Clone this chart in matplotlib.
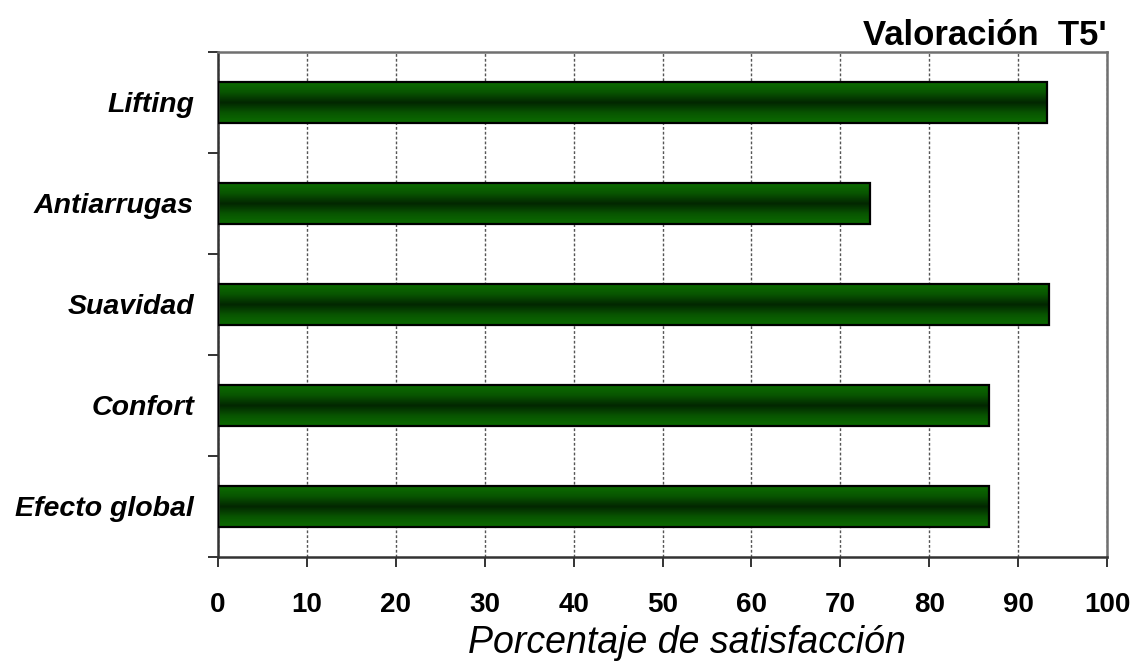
import numpy as np
import matplotlib
matplotlib.use("Agg")
import matplotlib.pyplot as plt
from matplotlib.colors import LinearSegmentedColormap

categories = ["Lifting", "Antiarrugas", "Suavidad", "Confort", "Efecto global"]
values = [93.3, 73.3, 93.5, 86.7, 86.7]
xticks = [0, 10, 20, 30, 40, 50, 60, 70, 80, 90, 100]

plt.rcParams["font.family"] = ["Liberation Sans", "DejaVu Sans"]

fig = plt.figure(figsize=(11.36, 6.69), dpi=100)
ax = fig.add_axes([0.1919, 0.1674, 0.9745 - 0.1919, 0.9223 - 0.1674])

n = len(categories)
ypos = np.arange(n)[::-1]  # first category at top
bar_h = 0.4

# vertical gradient: bright green edges, dark center
cmap = LinearSegmentedColormap.from_list(
    "bar", ["#0c6c00", "#085400", "#022600", "#085400", "#0c6c00"])
grad = np.linspace(0, 1, 64).reshape(-1, 1)

bars = ax.barh(ypos, values, height=bar_h, color="none",
               edgecolor="black", linewidth=1.6, zorder=3)
for b in bars:
    x0, y0 = b.get_x(), b.get_y()
    w, h = b.get_width(), b.get_height()
    im = ax.imshow(grad, cmap=cmap, aspect="auto",
                   extent=(x0, x0 + w, y0, y0 + h), zorder=2,
                   interpolation="bilinear")
    im.set_clip_path(b)

ax.set_xlim(0, 100)
ax.set_ylim(-0.5, n - 0.5)

ax.set_xticks(xticks)
ax.set_xticklabels([str(t) for t in xticks], fontsize=20, fontweight="bold")
ax.xaxis.grid(True, linestyle=(0, (2, 1.5)), color="#555555", linewidth=1.0)
ax.set_axisbelow(True)

# category labels centred on bars, tick marks on category boundaries
ax.set_yticks(np.arange(-0.5, n, 1.0))
ax.set_yticklabels([])
for y, lab in zip(ypos, categories):
    ax.text(-2.7, y - 0.02, lab, ha="right", va="center", fontsize=20.5,
            fontweight="bold", fontstyle="italic", transform=ax.transData)

ax.tick_params(axis="both", direction="out", length=7, width=1.4,
               color="#333333")
ax.tick_params(axis="x", pad=18)

for s in ax.spines.values():
    s.set_linewidth(1.8)
    s.set_color("#707070")
ax.spines["left"].set_color("#333333")
ax.spines["bottom"].set_color("#333333")

ax.set_xlabel("Porcentaje de satisfacción", fontsize=27, fontstyle="italic")
ax.xaxis.set_label_coords(0.527, -0.135)
fig.text(0.9745, 0.932, "Valoración  T5'", ha="right", va="baseline",
         fontsize=25, fontweight="bold")

fig.savefig("out.png", dpi=100)
